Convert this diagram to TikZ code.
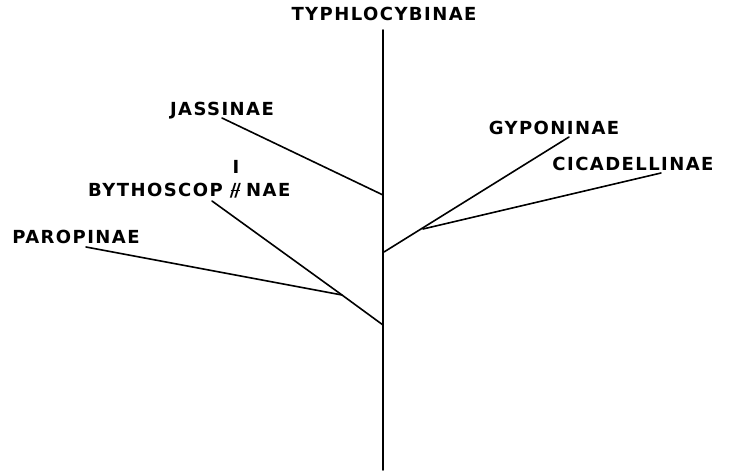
\documentclass[tikz,border=0pt]{standalone}
\usepackage{fontspec}
\setsansfont{DejaVu Sans}[LetterSpace=8]
\usetikzlibrary{positioning}

% crossed-out letter in the Bythoscopinae label
\newcommand{\struckchar}{\kern0.2em\makebox[1em][c]{/\kern-0.12em/}%
  \llap{\raisebox{0.32em}{\rule{0.55em}{0.08em}}\kern0.22em}\kern0.1em}

\begin{document}
\begin{tikzpicture}[x=1pt, y=-1pt,
      taxon/.style={font=\sffamily\bfseries\fontsize{18}{18}\selectfont,
          inner sep=0pt, anchor=center},
      branch/.style={line width=1.6pt, line cap=round},
    ]
    \useasboundingbox (0,0) rectangle (731,473);

    %% --- Labels ---
    \node[taxon] (typhlo) at (384,14)  {TYPHLOCYBINAE};
    \node[taxon] (jass)   at (222,111) {JASSINAE};
    \node[taxon, anchor=west] (bytho) at (88,191) {BYTHOSCOP\struckchar NAE};
    \node[taxon] (caret)  at (236,167) {I};
    \node[taxon] (paro)   at (76,237)  {PAROPINAE};
    \node[taxon] (gypo)   at (554,128) {GYPONINAE};
    \node[taxon] (cicad)  at (633,164) {CICADELLINAE};

    %% --- Branch points ---
    \coordinate (top)    at (383,30);
    \coordinate (bottom) at (383,470);
    \coordinate (jassJ)  at (383,195);
    \coordinate (rightJ) at (384,252);
    \coordinate (cicadF) at (423,229);
    \coordinate (leftJ)  at (383,325);
    \coordinate (leftF)  at (342,295);

    %% --- Branch tips (under the labels) ---
    \coordinate (jassT)  at (222,118);
    \coordinate (bythoT) at (212,201);
    \coordinate (paroT)  at (86,247);
    \coordinate (gypoT)  at (569,137);
    \coordinate (cicadT) at (661,173);

    %% --- Tree ---
    \draw[branch] (top) -- (bottom);
    \draw[branch] (jassT) -- (jassJ);
    \draw[branch] (rightJ) -- (gypoT);
    \draw[branch] (cicadF) -- (cicadT);
    \draw[branch] (leftJ) -- (leftF) -- (bythoT);
    \draw[branch] (leftF) -- (paroT);

  \end{tikzpicture}
\end{document}
